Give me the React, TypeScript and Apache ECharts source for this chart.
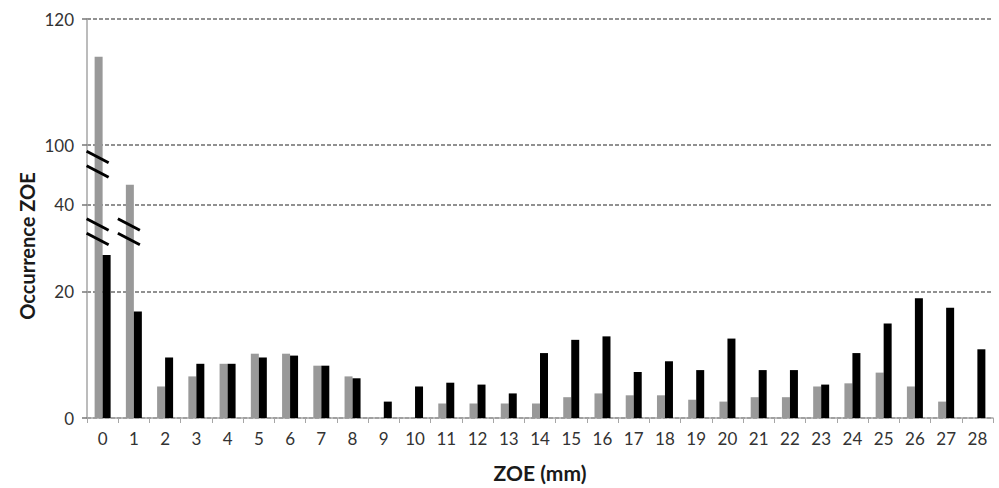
import React, { useEffect, useRef } from "react";
import * as echarts from "echarts";

const categories = ["0","1","2","3","4","5","6","7","8","9","10","11","12","13","14","15","16","17","18","19","20","21","22","23","24","25","26","27","28"];
const greyValues = [114, 60, 5.0, 6.6, 8.6, 10.2, 10.2, 8.3, 6.6, 0, 0, 2.3, 2.3, 2.3, 2.3, 3.3, 3.9, 3.6, 3.6, 2.9, 2.6, 3.3, 3.3, 5.0, 5.5, 7.2, 5.0, 2.6, 0];
const blackValues = [28.5, 16.9, 9.6, 8.6, 8.6, 9.6, 9.9, 8.3, 6.3, 2.6, 5.0, 5.6, 5.3, 3.9, 10.3, 12.4, 12.95, 7.3, 9.0, 7.6, 12.6, 7.6, 7.6, 5.3, 10.3, 15.0, 19.0, 17.5, 10.9];
// y-axis tick labels (real values) and the compressed display scale they sit at
const yTickValues = [0, 20, 40, 100, 120];
const yTickDisplay = [0, 126.7, 214.3, 274.3, 401];
// axis-break markers drawn across bars: [category index, real value]
const breakMarks: [number, number][] = [[0, 80.7], [0, 33.8], [1, 33.8]];

function toDisplay(v: number): number {
  for (let i = 1; i < yTickValues.length; i++) {
    if (v <= yTickValues[i]) {
      const r0 = yTickValues[i - 1], r1 = yTickValues[i];
      const d0 = yTickDisplay[i - 1], d1 = yTickDisplay[i];
      return d0 + ((v - r0) / (r1 - r0)) * (d1 - d0);
    }
  }
  return yTickDisplay[yTickDisplay.length - 1];
}

function labelFor(d: number): string {
  for (let i = 0; i < yTickDisplay.length; i++) {
    if (Math.abs(yTickDisplay[i] - d) < 0.01) return String(yTickValues[i]);
  }
  return "";
}

const FONT = "Lato, 'Open Sans', sans-serif";

export default function App() {
  const ref = useRef<HTMLDivElement>(null);
  useEffect(() => {
    if (!ref.current) return;
    const chart = echarts.init(ref.current, undefined, { renderer: "svg" });
    chart.setOption({
      animation: false,
      backgroundColor: "#ffffff",
      grid: { left: 87, right: 6, top: 19, bottom: 68, containLabel: false },
      xAxis: {
        type: "category",
        data: categories,
        boundaryGap: true,
        name: "ZOE (mm)",
        nameLocation: "middle",
        nameGap: 44,
        nameTextStyle: { fontFamily: FONT, fontWeight: "bold", fontSize: 21, color: "#1a1a1a" },
        axisLine: { show: true, lineStyle: { color: "#a6a6a6", width: 1.5 } },
        axisTick: { show: true, interval: 0, length: 5, lineStyle: { color: "#a6a6a6" } },
        axisLabel: { interval: 0, margin: 12, fontFamily: FONT, fontSize: 17, color: "#333333" },
        splitLine: { show: false },
      },
      yAxis: {
        type: "value",
        min: 0,
        max: yTickDisplay[yTickDisplay.length - 1],
        axisLine: { show: true, lineStyle: { color: "#a6a6a6", width: 1.5 } },
        axisTick: { show: true, length: 5, customValues: yTickDisplay, lineStyle: { color: "#777777", width: 1.5 } },
        axisLabel: {
          customValues: yTickDisplay,
          margin: 13,
          fontFamily: FONT,
          fontSize: 17,
          color: "#333333",
          formatter: (v: number) => labelFor(v),
        },
        splitLine: { show: true, lineStyle: { color: "#6e6e6e", type: [4, 2], width: 1.5 } },
      },
      graphic: [
        {
          type: "text",
          x: 27,
          y: 246,
          rotation: Math.PI / 2,
          style: {
            text: "Occurrence ZOE",
            fontFamily: FONT,
            fontWeight: "bold",
            fontSize: 20,
            fill: "#1a1a1a",
            textAlign: "center",
            textVerticalAlign: "middle",
          },
        },
      ],
      series: [
        {
          type: "bar",
          name: "grey",
          data: greyValues.map(toDisplay),
          barWidth: 8,
          barGap: "0%",
          itemStyle: { color: "#999999" },
        },
        {
          type: "bar",
          name: "black",
          data: blackValues.map(toDisplay),
          barWidth: 8,
          barGap: "0%",
          itemStyle: { color: "#000000" },
        },
        {
          type: "custom",
          name: "breaks",
          data: breakMarks.map(([c, v]) => [c, toDisplay(v)]),
          z: 10,
          renderItem: (params: any, api: any) => {
            const p = api.coord([api.value(0), api.value(1)]);
            const cx = p[0] - 5;
            const cy = p[1];
            const st = { stroke: "#000000", lineWidth: 3 };
            return {
              type: "group",
              children: [
                { type: "line", shape: { x1: cx - 11, y1: cy - 13, x2: cx + 11, y2: cy - 1.5 }, style: st },
                { type: "line", shape: { x1: cx - 11, y1: cy + 1.5, x2: cx + 11, y2: cy + 13 }, style: st },
              ],
            };
          },
        },
      ],
    });
    return () => chart.dispose();
  }, []);
  return <div ref={ref} style={{ width: 999, height: 488, position: "absolute", left: 0, top: 0 }} />;
}
